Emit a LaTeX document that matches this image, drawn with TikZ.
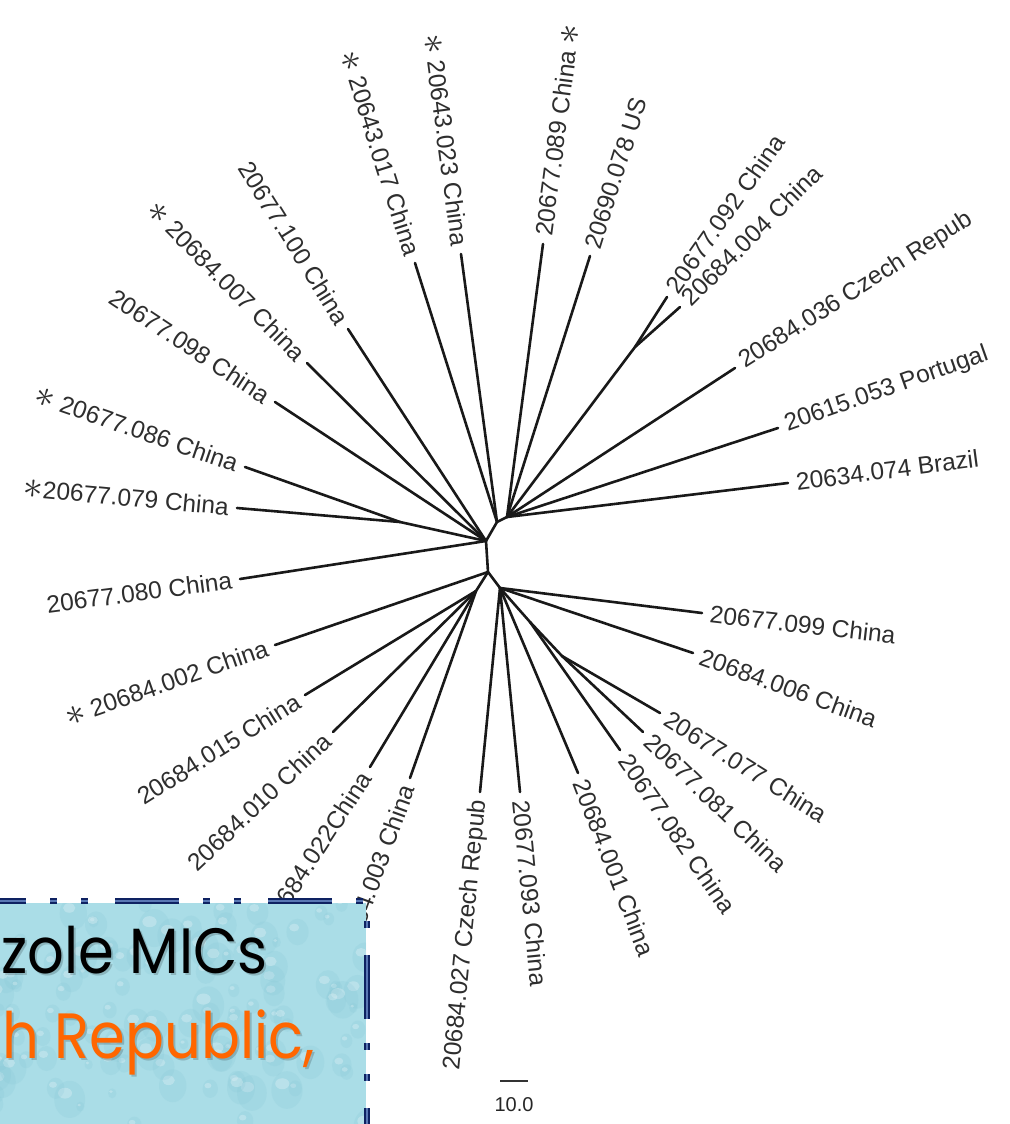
\documentclass[tikz,border=0pt]{standalone}
\usepackage{fontspec}
\setmainfont{Liberation Sans}
\newfontfamily\boxfont{Poppins}
\usetikzlibrary{calc}
\definecolor{navyb}{RGB}{14,34,98}
\definecolor{navyl}{RGB}{90,120,180}
\definecolor{aqua}{RGB}{170,221,231}
\definecolor{aquad}{RGB}{130,196,212}
\definecolor{orng}{RGB}{255,102,0}
\newcommand\mystar{\raisebox{-0.05em}{\scalebox{1.6}{$\ast$}}}
\begin{document}
\begin{tikzpicture}[x=1pt,y=-1pt,
  branch/.style={line width=2.6pt, line join=round, line cap=round, black!90},
  lab/.style={font=\fontsize{24.5}{28}\selectfont, text=black!82, inner xsep=8pt, inner ysep=0pt},
  outlab/.style={lab, anchor=west, rotate=#1},
  inlab/.style={lab, anchor=east, rotate=#1},
  boxtext/.style={font=\boxfont\fontsize{64}{70}\selectfont, inner sep=0pt, anchor=base east},
]
\useasboundingbox (0,0) rectangle (1009,1124);
\fill[white] (0,0) rectangle (1009,1124);
\clip (0,0) rectangle (1009,1124);

% internal nodes
\coordinate (N1) at (507,517);
\coordinate (N2) at (497,522);
\coordinate (N3) at (486,541);
\coordinate (N4) at (488,572);
\coordinate (N5) at (500,588);
\coordinate (S0) at (635,347);
\coordinate (L1) at (400,522);
\coordinate (L2) at (476,591);
\coordinate (S1) at (530,622);
\coordinate (S2) at (562,656);

% leaves
\coordinate (a017) at (415,263);
\coordinate (a023) at (461,254);
\coordinate (a089) at (543,244);
\coordinate (a078) at (590,256);
\coordinate (a092) at (667,297);
\coordinate (a004) at (680,307);
\coordinate (a036) at (735,368);
\coordinate (a053) at (778,428);
\coordinate (a074) at (788,483);
\coordinate (a100) at (348,329);
\coordinate (a007) at (307,363);
\coordinate (a098) at (275,402);
\coordinate (a086) at (245,467);
\coordinate (a079) at (237,508);
\coordinate (a080) at (240,579);
\coordinate (a002) at (275,645);
\coordinate (a015) at (305,695);
\coordinate (a010) at (333,732);
\coordinate (a022) at (370,767);
\coordinate (a003) at (410,778);
\coordinate (a027) at (480,792);
\coordinate (a093) at (520,792);
\coordinate (a001) at (578,773);
\coordinate (a082) at (620,750);
\coordinate (a081) at (643,732);
\coordinate (a077) at (660,713);
\coordinate (a006) at (693,653);
\coordinate (a099) at (702,613);

% backbone
\draw[branch] (N1) -- (N2) -- (N3) -- (N4) -- (N5);
\draw[branch] (N1) -- (S0);
\draw[branch] (N3) -- (L1);
\draw[branch] (N4) -- (L2);
\draw[branch] (N5) -- (S1) -- (S2);

% branches
\foreach \h/\l in {N2/a017, N2/a023, N1/a089, N1/a078, S0/a092, S0/a004, N1/a036, N1/a053, N1/a074,
  N3/a100, N3/a007, N3/a098, L1/a086, L1/a079, N3/a080, N4/a002, L2/a015, L2/a010, L2/a022, L2/a003,
  N5/a027, N5/a093, N5/a001, S1/a082, S2/a081, S2/a077, N5/a006, N5/a099}
  \draw[branch] (\h) -- (\l);

% outward labels
\node[outlab=82.5]  (l089) at (a089) {20677.089 China \mystar};
\node[outlab=72.6]  (l078) at (a078) {20690.078 US};
\node[outlab=55]    (l092) at (a092) {20677.092 China};
\node[outlab=45]    (l004) at (a004) {20684.004 China};
\node[outlab=32.5]  (l036) at (a036) {20684.036 Czech Repub};
\node[outlab=19.5]  (l053) at (a053) {20615.053 Portugal};
\node[outlab=7.5]   (l074) at (a074) {20634.074 Brazil};
\node[outlab=-6.5]  (l099) at (a099) {20677.099 China};
\node[outlab=-20]   (l006) at (a006) {20684.006 China};
\node[outlab=-32]   (l077) at (a077) {20677.077 China};
\node[outlab=-44]   (l081) at (a081) {20677.081 China};
\node[outlab=-55.5] (l082) at (a082) {20677.082 China};
\node[outlab=-69]   (l001) at (a001) {20684.001 China};
\node[outlab=-84.4] (l093) at (a093) {20677.093 China};

% inward labels
\node[inlab=84.4]  (l027) at (a027) {20684.027 Czech Repub};
\node[inlab=70]    (l003) at (a003) {20684.003 China};
\node[inlab=57]    (l022) at (a022) {20684.022China};
\node[inlab=43.5]  (l010) at (a010) {20684.010 China};
\node[inlab=32]    (l015) at (a015) {20684.015 China};
\node[inlab=19.3]  (l002) at (a002) {\mystar\ 20684.002 China};
\node[inlab=7.5]   (l080) at (a080) {20677.080 China};
\node[inlab=-5.3]  (l079) at (a079) {\mystar20677.079 China};
\node[inlab=-19]   (l086) at (a086) {\mystar\ 20677.086 China};
\node[inlab=-33.4] (l098) at (a098) {20677.098 China};
\node[inlab=-45.3] (l007) at (a007) {\mystar\ 20684.007 China};
\node[inlab=-58]   (l100) at (a100) {20677.100 China};
\node[inlab=-72.4] (l017) at (a017) {\mystar\ 20643.017 China};
\node[inlab=-82.4] (l023) at (a023) {\mystar\ 20643.023 China};

% scale bar
\coordinate (sb1) at (500,1081);
\coordinate (sb2) at (528,1081);
\draw[line width=2.2pt, black!80] (sb1) -- (sb2);
\node[font=\fontsize{20}{22}\selectfont, text=black!85, inner sep=0pt] (sbl) at (514,1105) {10.0};

% text box
\begin{scope}
\clip (-10,903) rectangle (366,1140);
\fill[aqua] (-10,903) rectangle (366,1140);
\pgfmathsetseed{11}
\foreach \i in {1,...,110} {
  \pgfmathsetmacro\rx{rnd*380-5}
  \pgfmathsetmacro\ry{903+rnd*230}
  \pgfmathsetmacro\rr{4+rnd*12}
  \fill[aquad, opacity=0.18] (\rx,\ry) ellipse ({\rr} and {\rr*1.2});
  \fill[white, opacity=0.25] (\rx-\rr*0.3,\ry-\rr*0.4) ellipse ({\rr*0.45} and {\rr*0.35});
}
\node[boxtext, text=black, opacity=0.18] at (270,975) {\scalebox{0.9}[1]{zole MICs}};
\node[boxtext, text=black] (t1) at (268,973) {\scalebox{0.9}[1]{zole MICs}};
\node[boxtext, text=black, opacity=0.18] at (317,1060) {\scalebox{0.9}[1]{h Republic,}};
\node[boxtext, text=orng] (t2) at (315,1058) {\scalebox{0.9}[1]{h Republic,}};
\end{scope}
\draw[navyb, line width=5.5pt, dash pattern=on 64pt off 24pt on 7pt off 24pt on 7pt off 27pt] (-38,901) -- (367,901) -- (367,1140);
\draw[navyl, line width=1.2pt, dash pattern=on 64pt off 24pt on 7pt off 24pt on 7pt off 27pt] (-38,901) -- (367,901) -- (367,1140);
\end{tikzpicture}
\end{document}
